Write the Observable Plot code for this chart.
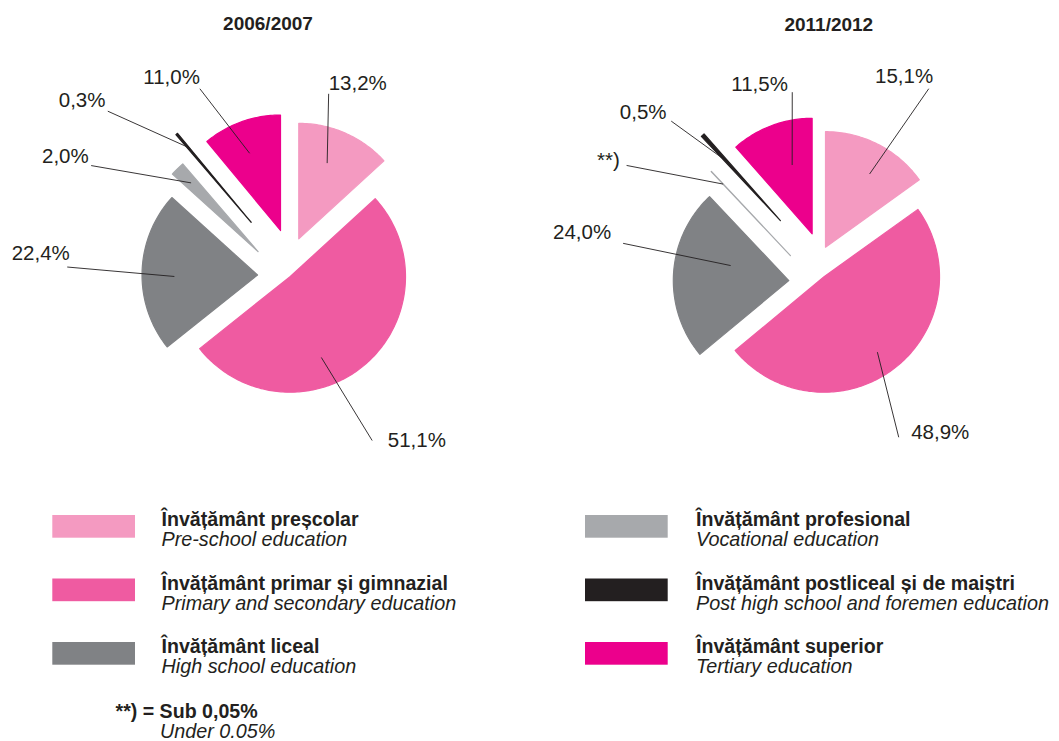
<!DOCTYPE html>
<html>
<head>
<meta charset="utf-8">
<script src="https://cdn.jsdelivr.net/npm/d3@7"></script>
<script src="https://cdn.jsdelivr.net/npm/@observablehq/plot@0.6"></script>
<style>
  html, body { margin: 0; padding: 0; background: #fff; }
  #chart svg { display: block; }
</style>
</head>
<body>
<div id="chart"></div>
<script>
// ---------------- data ----------------
const categoriesRo = [
  "Învățământ preșcolar",
  "Învățământ primar și gimnazial",
  "Învățământ liceal",
  "Învățământ profesional",
  "Învățământ postliceal și de maiștri",
  "Învățământ superior"
];
const categoriesEn = [
  "Pre-school education",
  "Primary and secondary education",
  "High school education",
  "Vocational education",
  "Post high school and foremen education",
  "Tertiary education"
];
const years = ["2006/2007", "2011/2012"];
const values2006 = [13.2, 51.1, 22.4, 2.0, 0.3, 11.0];
const values2011 = [15.1, 48.9, 24.0, 0.04, 0.5, 11.5];   // vocational: under 0,05%
const labels2006 = ["13,2%", "51,1%", "22,4%", "2,0%", "0,3%", "11,0%"];
const labels2011 = ["15,1%", "48,9%", "24,0%", "**)", "0,5%", "11,5%"];
const footnoteRo = "**) = Sub 0,05%";
const footnoteEn = "Under 0.05%";

// ---------------- style / layout ----------------
const colors = ["#F49AC1", "#EF5BA1", "#808285", "#A7A9AC", "#231F20", "#EC008C"];
const ink = "#231F20";
const ff = "'Liberation Sans', Arial, Helvetica, sans-serif";
const W = 1059, H = 741, R = 115.5;
const rad = Math.PI / 180;

// explode: pull-out distance and direction tweak (deg) per slice
// leaders: start inside slice (fraction f of radius, angle tweak), end in polar coords around pie centre
const layouts = [
  { title: years[0], values: values2006, labels: labels2006,
    cx: 288, cy: 270, titleX: 267.5, titleY: 29.3,
    explode: [{d: 33.3, s: -5.8}, {d: 6.4, s: 26.9}, {d: 31.3, s: -10.1},
              {d: 35.9, s: -13.8}, {d: 61, s: 2.4}, {d: 40.8, s: 8.5}],
    leaders: [
      {shift: -3.2, f: 0.70, a: 12.8,  r: 181.2, dx: 0,    dy: -4,   anchor: "start"},
      {shift: 19.3, f: 0.75, a: 153.8, r: 189.5, dx: 15.6, dy: 6.7,  anchor: "start"},
      {shift: -2.8, f: 0.72, a: 270.9, r: 221.3, dx: 2.6,  dy: -6.7, anchor: "end"},
      {shift: 0,    f: 0.83, a: 298,   r: 223.5, dx: -2.4, dy: -2.3, anchor: "end"},
      {shift: 0,    f: 0.85, a: 311.4, r: 240.9, dx: -2.3, dy: -4,   anchor: "end"},
      {shift: -2,   f: 0.72, a: 334,   r: 202.2, dx: 0,    dy: -4.3, anchor: "end"}
    ]},
  { title: years[1], values: values2011, labels: labels2011,
    cx: 820, cy: 272, titleX: 828.3, titleY: 30,
    explode: [{d: 25.8, s: -16}, {d: 5.5, s: -2.2}, {d: 32.7, s: -17.8},
              {d: 34.5, s: -17.4}, {d: 65.6, s: 4.6}, {d: 39.6, s: 8.5}],
    leaders: [
      {shift: 3.9, f: 0.74, a: 30.5,  r: 213.3, dx: 4.4,  dy: -5.6, anchor: "end"},
      {shift: 2.4, f: 0.80, a: 154.6, r: 182.4, dx: 12.4, dy: 1.6,  anchor: "start"},
      {shift: 11,  f: 0.52, a: 278.4, r: 199.5, dx: -12,  dy: -4.4, anchor: "end"},
      {shift: 0,   f: 0.85, a: 298.9, r: 221.5, dx: -6.7, dy: 1.7,  anchor: "end"},
      {shift: 0,   f: 0.70, a: 315.4, r: 212.6, dx: -4.7, dy: -2.4, anchor: "end"},
      {shift: 4.5, f: 0.62, a: 351.1, r: 182.5, dx: -4.4, dy: -1,   anchor: "end"}
    ]}
];

// ---------------- geometry from data ----------------
const pie = d3.pie().sort(null).value(d => d);
const slicePts = [], leaderData = [], labelData = [];
layouts.forEach((L, p) => {
  pie(L.values).forEach((s, i) => {
    const mid = (s.startAngle + s.endAngle) / 2;
    const ex = L.explode[i];
    const ea = mid + ex.s * rad;
    const ax = L.cx + ex.d * Math.sin(ea), ay = L.cy - ex.d * Math.cos(ea);
    const key = p + "-" + i;
    slicePts.push({key, color: colors[i], x: ax, y: ay});
    const n = Math.max(2, Math.ceil((s.endAngle - s.startAngle) / rad));
    for (let k = 0; k <= n; k++) {
      const a = s.startAngle + (s.endAngle - s.startAngle) * k / n;
      slicePts.push({key, color: colors[i], x: ax + R * Math.sin(a), y: ay - R * Math.cos(a)});
    }
    slicePts.push({key, color: colors[i], x: ax, y: ay});
    // leader line: from inside the slice to the label
    const lo = L.leaders[i];
    const ia = mid + lo.shift * rad;
    const x1 = ax + lo.f * R * Math.sin(ia), y1 = ay - lo.f * R * Math.cos(ia);
    const x2 = L.cx + lo.r * Math.sin(lo.a * rad), y2 = L.cy - lo.r * Math.cos(lo.a * rad);
    leaderData.push({x1, y1, x2, y2});
    labelData.push({x: x2 + lo.dx, y: y2 + lo.dy, text: L.labels[i], anchor: lo.anchor});
  });
});

// legend
const legendColX = [52.3, 585], legendTextX = [161, 695.5];
const legendData = categoriesRo.map((c, i) => {
  const col = i < 3 ? 0 : 1, row = i % 3;
  return {
    ro: c, en: categoriesEn[i], color: colors[i],
    x1: legendColX[col], x2: legendColX[col] + 82.7,
    y1: 515 + row * 63.5, y2: 515 + row * 63.5 + 22.7,
    tx: legendTextX[col], ty1: 525.7 + row * 63.5, ty2: 545.7 + row * 63.5
  };
});
const footData = [
  {x: 115, y: 717, text: footnoteRo, bold: true},
  {x: 159.5, y: 737, text: footnoteEn, bold: false}
];

const chart = Plot.plot({
  width: W, height: H,
  margin: 0,
  x: {domain: [0, W], range: [0, W], axis: null},
  y: {domain: [0, H], range: [0, H], axis: null},
  color: {type: "identity"},
  style: {fontFamily: ff, background: "#fff", color: ink},
  marks: [
    Plot.line(slicePts, {x: "x", y: "y", z: "key", fill: "color", stroke: "color", strokeWidth: 1.2}),
    Plot.link(leaderData, {x1: "x1", y1: "y1", x2: "x2", y2: "y2", stroke: ink, strokeWidth: 0.9}),
    Plot.text(labelData.filter(d => d.anchor === "start"), {x: "x", y: "y", text: "text", textAnchor: "start", lineAnchor: "bottom", fontSize: 20.5, fill: ink, fontFamily: ff}),
    Plot.text(labelData.filter(d => d.anchor === "end"), {x: "x", y: "y", text: "text", textAnchor: "end", lineAnchor: "bottom", fontSize: 20.5, fill: ink, fontFamily: ff}),
    Plot.text(layouts, {x: "titleX", y: "titleY", text: "title", textAnchor: "middle", lineAnchor: "bottom", fontSize: 19, fontWeight: "bold", fill: ink, fontFamily: ff}),
    Plot.rect(legendData, {x1: "x1", x2: "x2", y1: "y1", y2: "y2", fill: "color"}),
    Plot.text(legendData, {x: "tx", y: "ty1", text: "ro", textAnchor: "start", lineAnchor: "bottom", fontSize: 19.6, fontWeight: "bold", fill: ink, fontFamily: ff}),
    Plot.text(legendData, {x: "tx", y: "ty2", text: "en", textAnchor: "start", lineAnchor: "bottom", fontSize: 19.8, fontStyle: "italic", fill: ink, fontFamily: ff}),
    Plot.text(footData.filter(d => d.bold), {x: "x", y: "y", text: "text", textAnchor: "start", lineAnchor: "bottom", fontSize: 19.6, fontWeight: "bold", fill: ink, fontFamily: ff}),
    Plot.text(footData.filter(d => !d.bold), {x: "x", y: "y", text: "text", textAnchor: "start", lineAnchor: "bottom", fontSize: 19.8, fontStyle: "italic", fill: ink, fontFamily: ff})
  ]
});
document.getElementById("chart").appendChild(chart);
</script>
</body>
</html>
